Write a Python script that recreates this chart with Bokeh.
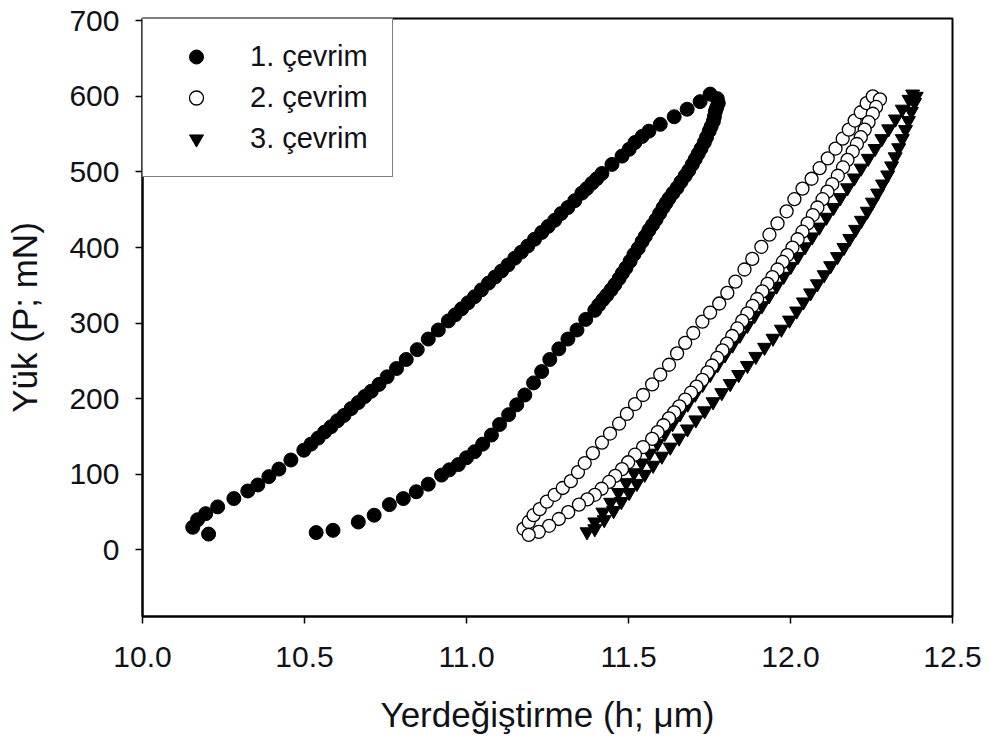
from bokeh.plotting import figure
from bokeh.models import Range1d, FixedTicker, PrintfTickFormatter, Legend, LegendItem
from bokeh.embed import file_html
from bokeh.resources import INLINE

# ---------------- data ----------------
# 1. çevrim (filled circles): upper-left branch, then lower-right branch
c1_up_x = [10.155, 10.170, 10.195, 10.232, 10.282, 10.325, 10.356, 10.390, 10.421, 10.458,
           10.498, 10.520, 10.542, 10.562, 10.582, 10.602, 10.622, 10.644, 10.666, 10.686,
           10.706, 10.730, 10.755, 10.784, 10.814, 10.848, 10.882, 10.913, 10.944, 10.965,
           10.985, 11.005, 11.025, 11.046, 11.068, 11.088, 11.108, 11.128, 11.149, 11.169,
           11.189, 11.210, 11.232, 11.252, 11.272, 11.292, 11.313, 11.334, 11.356, 11.371,
           11.387, 11.402, 11.418, 11.449, 11.480, 11.502, 11.520, 11.542, 11.563, 11.598,
           11.641, 11.681, 11.721, 11.752, 11.774]
c1_up_y = [30, 40, 48, 57, 68, 78, 86, 97, 107, 119,
           132, 140, 148, 156, 163, 171, 178, 187, 195, 203,
           210, 219, 229, 240, 252, 265, 279, 291, 303, 311,
           319, 327, 335, 344, 353, 361, 369, 377, 386, 394,
           402, 411, 420, 428, 436, 445, 453, 462, 472, 478,
           485, 491, 498, 510, 521, 530, 539, 547, 554, 563,
           573, 583, 593, 603, 597]
c1_dn_x = [10.204, 10.536, 10.588, 10.666, 10.715, 10.762, 10.805, 10.845, 10.882, 10.923,
           10.947, 10.975, 11.000, 11.025, 11.050, 11.077, 11.102, 11.130, 11.155, 11.180,
           11.207, 11.232, 11.257, 11.285, 11.313, 11.341, 11.368, 11.396, 11.408, 11.421,
           11.433, 11.446, 11.458, 11.471, 11.481, 11.492, 11.505, 11.517, 11.530, 11.542,
           11.552, 11.563, 11.574, 11.585, 11.596, 11.607, 11.616, 11.625, 11.637, 11.650,
           11.662, 11.675, 11.686, 11.697, 11.706, 11.715, 11.724, 11.734, 11.741, 11.749,
           11.755, 11.762, 11.765, 11.768, 11.772, 11.777]
c1_dn_y = [21, 23, 26, 37, 46, 60, 68, 77, 87, 99,
           106, 113, 122, 130, 140, 152, 166, 179, 192, 205,
           221, 236, 252, 266, 279, 291, 305, 317, 324, 331,
           337, 344, 351, 359, 366, 373, 382, 391, 399, 408,
           415, 423, 430, 437, 445, 453, 459, 465, 472, 479,
           487, 495, 502, 510, 517, 524, 531, 539, 546, 554,
           560, 567, 573, 580, 585, 591]

# 2. çevrim (open circles)
c2_up_x = [11.176, 11.192, 11.207, 11.226, 11.248, 11.272, 11.297, 11.322, 11.344, 11.365,
           11.390, 11.418, 11.443, 11.471, 11.495, 11.520, 11.545, 11.573, 11.598, 11.625,
           11.650, 11.675, 11.700, 11.728, 11.752, 11.780, 11.805, 11.830, 11.858, 11.882,
           11.910, 11.935, 11.960, 11.988, 12.012, 12.037, 12.065, 12.090, 12.115, 12.139,
           12.161, 12.180, 12.198, 12.217, 12.235, 12.254]
c2_up_y = [28, 37, 46, 54, 64, 73, 82, 91, 103, 115,
           128, 142, 154, 167, 180, 193, 205, 219, 232, 245,
           260, 274, 287, 302, 314, 326, 340, 355, 371, 385,
           401, 417, 432, 448, 464, 478, 491, 505, 518, 531,
           544, 556, 568, 579, 591, 600]
c2_dn_x = [12.276, 12.264, 12.254, 12.241, 12.229, 12.217, 12.205, 12.192, 12.176, 12.162,
           12.146, 12.129, 12.114, 12.099, 12.083, 12.069, 12.053, 12.037, 12.022, 12.006,
           11.990, 11.976, 11.960, 11.944, 11.929, 11.913, 11.897, 11.883, 11.867, 11.851,
           11.836, 11.820, 11.804, 11.790, 11.774, 11.758, 11.744, 11.728, 11.710, 11.693,
           11.675, 11.657, 11.641, 11.625, 11.608, 11.590, 11.573, 11.545, 11.520, 11.499,
           11.480, 11.459, 11.440, 11.417, 11.396, 11.373, 11.347, 11.314, 11.285, 11.255,
           11.223, 11.192]
c2_dn_y = [596, 586, 577, 566, 556, 546, 537, 527, 516, 506,
           495, 484, 474, 464, 453, 443, 432, 421, 411, 400,
           390, 381, 371, 361, 352, 342, 332, 323, 313, 303,
           293, 283, 273, 264, 254, 244, 235, 225, 216, 208,
           199, 190, 182, 174, 165, 156, 147, 136, 126, 116,
           107, 98, 90, 81, 73, 67, 60, 50, 41, 32,
           24, 20]

# 3. çevrim (filled down-triangles)
c3_up_x = [11.372, 11.396, 11.421, 11.445, 11.469, 11.493, 11.517, 11.541, 11.565, 11.589,
           11.612, 11.636, 11.659, 11.683, 11.706, 11.729, 11.752, 11.775, 11.798, 11.821,
           11.844, 11.867, 11.889, 11.912, 11.934, 11.957, 11.979, 12.001, 12.023, 12.045,
           12.067, 12.089, 12.111, 12.133, 12.154, 12.176, 12.197, 12.218, 12.240, 12.261,
           12.282, 12.303, 12.324, 12.345, 12.366, 12.377]
c3_up_y = [24, 37, 50, 63, 76, 89, 102, 115, 128, 141,
           154, 167, 180, 193, 206, 219, 232, 245, 258, 271,
           284, 297, 310, 323, 336, 349, 362, 375, 388, 401,
           414, 427, 440, 453, 466, 479, 492, 505, 518, 531,
           544, 557, 570, 583, 596, 603]
c3_dn_x = [12.388, 12.383, 12.373, 12.364, 12.355, 12.345, 12.334, 12.323, 12.312, 12.300,
           12.284, 12.269, 12.253, 12.237, 12.219, 12.201, 12.183, 12.165, 12.145, 12.124,
           12.104, 12.083, 12.062, 12.040, 12.019, 11.997, 11.972, 11.946, 11.920, 11.893,
           11.867, 11.840, 11.814, 11.788, 11.761, 11.735, 11.708, 11.682, 11.656, 11.629,
           11.603, 11.576, 11.550, 11.526, 11.502, 11.478, 11.454, 11.425, 11.396]
c3_dn_y = [600, 592, 580, 568, 556, 544, 532, 520, 508, 496,
           484, 472, 460, 448, 436, 424, 412, 400, 388, 376,
           364, 352, 340, 328, 316, 304, 292, 280, 268, 256,
           244, 232, 220, 208, 196, 184, 172, 160, 148, 136,
           124, 112, 100, 88, 76, 64, 52, 40, 28]

series_labels = ["1. çevrim", "2. çevrim", "3. çevrim"]
x_ticks = [10.0, 10.5, 11.0, 11.5, 12.0, 12.5]
y_ticks = [0, 100, 200, 300, 400, 500, 600, 700]

# ---------------- figure ----------------
FONT = "Liberation Sans"
TXT = "#111118"

p = figure(width=991, height=755, output_backend="svg", toolbar_location=None,
           x_range=Range1d(10.0, 12.5), y_range=Range1d(-88, 703),
           min_border_left=142, min_border_right=39, min_border_top=18,
           min_border_bottom=139)
p.xgrid.visible = False
p.ygrid.visible = False
p.outline_line_color = "black"
p.outline_line_width = 2
p.background_fill_color = "white"
p.border_fill_color = "white"

c1x = c1_up_x + c1_dn_x
c1y = c1_up_y + c1_dn_y
c2x = c2_up_x + c2_dn_x
c2y = c2_up_y + c2_dn_y
c3x = c3_up_x + c3_dn_x
c3y = c3_up_y + c3_dn_y

r1 = p.scatter(c1x, c1y, marker="circle", size=14, fill_color="black", line_color="black")
r3 = p.scatter(c3x, c3y, marker="inverted_triangle", size=14, fill_color="black",
               line_color="black")
r2 = p.scatter(c2x, c2y, marker="circle", size=13, fill_color="white", line_color="black",
               line_width=1.3)

for ax, ticks, fmt in ((p.xaxis, x_ticks, "%.1f"), (p.yaxis, y_ticks, "%d")):
    ax.ticker = FixedTicker(ticks=ticks)
    ax.formatter = PrintfTickFormatter(format=fmt)
    ax.axis_line_width = 2
    ax.axis_line_color = "black"
    ax.major_tick_line_width = 1.5
    ax.major_tick_in = 0
    ax.major_tick_out = 7
    ax.minor_tick_in = 0
    ax.minor_tick_out = 0
    ax.major_label_text_font = FONT
    ax.major_label_text_font_size = "30px"
    ax.major_label_text_color = TXT
    ax.axis_label_text_font = FONT
    ax.axis_label_text_font_size = "35px"
    ax.axis_label_text_font_style = "normal"
    ax.axis_label_text_color = TXT

p.xaxis.axis_label = "Yerdeğiştirme (h; μm)"
p.yaxis.axis_label = "Yük (P; mN)"
p.xaxis.major_label_standoff = 23
p.yaxis.major_label_standoff = 16
p.xaxis.axis_label_standoff = 25
p.yaxis.axis_label_standoff = 22

legend = Legend(items=[LegendItem(label=series_labels[0], renderers=[r1]),
                       LegendItem(label=series_labels[1], renderers=[r2]),
                       LegendItem(label=series_labels[2], renderers=[r3])],
                location="top_left", margin=0, padding=20, spacing=6,
                glyph_height=35, glyph_width=66, label_height=35, label_standoff=21,
                label_width=122,
                border_line_color="black", border_line_width=1.5,
                background_fill_color="white", background_fill_alpha=1.0,
                label_text_font=FONT, label_text_font_size="29px",
                label_text_color=TXT)
p.add_layout(legend)

open("out.html", "w").write(file_html(p, INLINE))
